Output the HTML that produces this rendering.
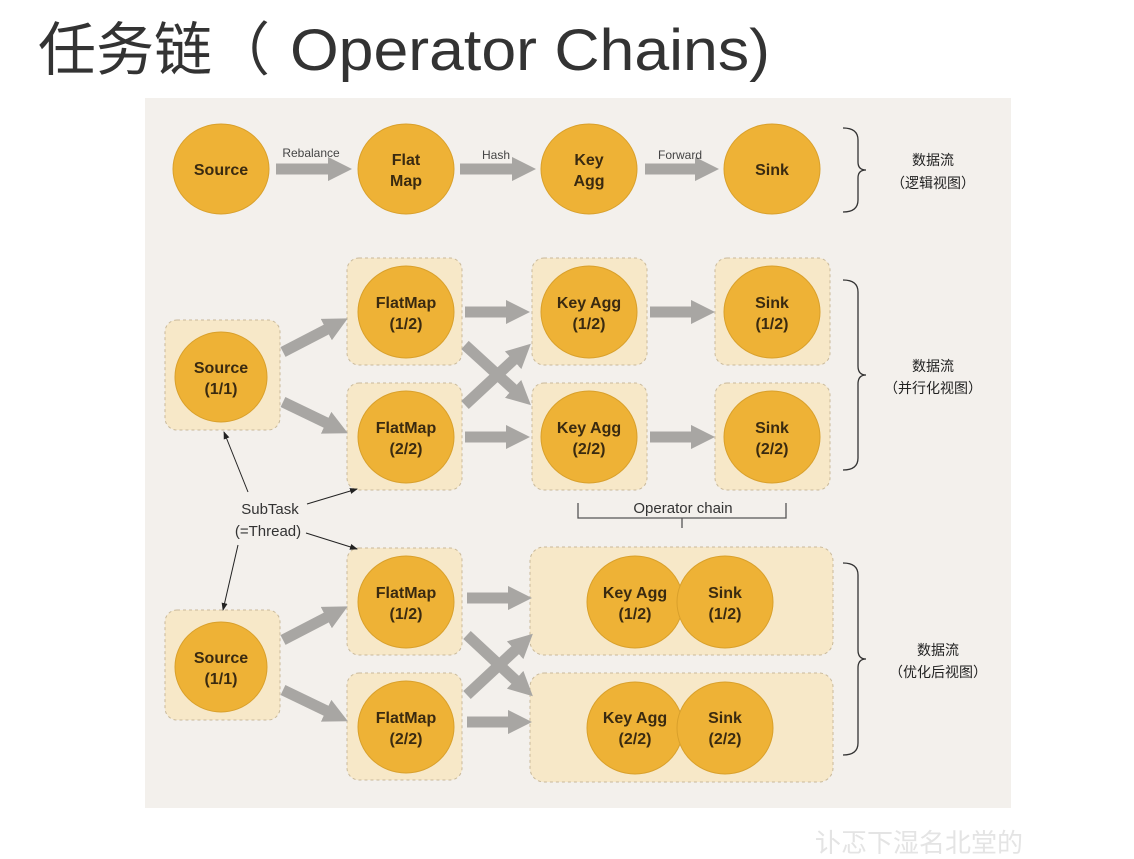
<!DOCTYPE html>
<html><head><meta charset="utf-8"><style>
body{margin:0;width:1134px;height:854px;background:#fff;overflow:hidden;font-family:"Liberation Sans","Noto Sans CJK SC",sans-serif}
</style></head><body>
<svg width="1134" height="854" xmlns="http://www.w3.org/2000/svg" font-family="Liberation Sans, Noto Sans CJK SC, sans-serif">
<defs>
<marker id="ga" markerWidth="2.2" markerHeight="2.2" refX="1.1" refY="1.1" orient="auto" markerUnits="strokeWidth"><path d="M0,0 L2.2,1.1 L0,2.2z" fill="#a8a6a3"/></marker>
<marker id="ba" markerWidth="8" markerHeight="8" refX="7" refY="4" orient="auto" markerUnits="userSpaceOnUse"><path d="M0,1 L8,4 L0,7z" fill="#222"/></marker>
</defs>
<text x="38" y="70" font-size="58" fill="#333">任务链（</text>
<text x="290" y="70" font-size="58" fill="#333" textLength="480" lengthAdjust="spacingAndGlyphs">Operator Chains)</text>
<rect x="145" y="98" width="866" height="710" fill="#f3f0ec"/>
<g fill="#f7e8c8" stroke="#c9b99a" stroke-dasharray="3,3" stroke-width="1">
<rect x="165" y="320" width="115" height="110" rx="12"/>
<rect x="347" y="258" width="115" height="107" rx="12"/>
<rect x="347" y="383" width="115" height="107" rx="12"/>
<rect x="532" y="258" width="115" height="107" rx="12"/>
<rect x="532" y="383" width="115" height="107" rx="12"/>
<rect x="715" y="258" width="115" height="107" rx="12"/>
<rect x="715" y="383" width="115" height="107" rx="12"/>
<rect x="165" y="610" width="115" height="110" rx="12"/>
<rect x="347" y="548" width="115" height="107" rx="12"/>
<rect x="347" y="673" width="115" height="107" rx="12"/>
<rect x="530" y="547" width="303" height="108" rx="14"/>
<rect x="530" y="673" width="303" height="109" rx="14"/>
</g>
<g stroke="#a8a6a3" stroke-width="11" fill="none" marker-end="url(#ga)">
<line x1="276" y1="169" x2="340" y2="169"/>
<line x1="460" y1="169" x2="524" y2="169"/>
<line x1="645" y1="169" x2="707" y2="169"/>
<line x1="283" y1="352" x2="337" y2="324"/>
<line x1="283" y1="402" x2="337" y2="428"/>
<line x1="465" y1="312" x2="518" y2="312"/>
<line x1="465" y1="437" x2="518" y2="437"/>
<line x1="650" y1="312" x2="703" y2="312"/>
<line x1="650" y1="437" x2="703" y2="437"/>
<line x1="465" y1="345" x2="522" y2="397"/>
<line x1="465" y1="405" x2="522" y2="352"/>
<line x1="283" y1="640" x2="337" y2="612"/>
<line x1="283" y1="690" x2="337" y2="716"/>
<line x1="467" y1="598" x2="520" y2="598"/>
<line x1="467" y1="722" x2="520" y2="722"/>
<line x1="467" y1="635" x2="524" y2="688"/>
<line x1="467" y1="695" x2="524" y2="642"/>
</g>
<g font-size="12" fill="#444" text-anchor="middle">
<text x="311" y="157">Rebalance</text><text x="496" y="159">Hash</text><text x="680" y="159">Forward</text>
</g>
<g fill="#eeb236" stroke="#d9a02b" stroke-width="1">
<ellipse cx="221" cy="169" rx="48" ry="45"/><ellipse cx="406" cy="169" rx="48" ry="45"/><ellipse cx="589" cy="169" rx="48" ry="45"/><ellipse cx="772" cy="169" rx="48" ry="45"/>
<ellipse cx="221" cy="377" rx="46" ry="45"/><ellipse cx="406" cy="312" rx="48" ry="46"/><ellipse cx="406" cy="437" rx="48" ry="46"/>
<ellipse cx="589" cy="312" rx="48" ry="46"/><ellipse cx="589" cy="437" rx="48" ry="46"/><ellipse cx="772" cy="312" rx="48" ry="46"/><ellipse cx="772" cy="437" rx="48" ry="46"/>
<ellipse cx="221" cy="667" rx="46" ry="45"/><ellipse cx="406" cy="602" rx="48" ry="46"/><ellipse cx="406" cy="727" rx="48" ry="46"/>
<ellipse cx="635" cy="602" rx="48" ry="46"/><ellipse cx="725" cy="602" rx="48" ry="46"/>
<ellipse cx="635" cy="728" rx="48" ry="46"/><ellipse cx="725" cy="728" rx="48" ry="46"/>
</g>
<g font-size="16" font-weight="bold" fill="#3a2a10" text-anchor="middle">
<text x="221" y="175">Source</text>
<text x="406" y="165">Flat</text><text x="406" y="186">Map</text>
<text x="589" y="165">Key</text><text x="589" y="186">Agg</text>
<text x="772" y="175">Sink</text>
<text x="221" y="373">Source</text><text x="221" y="394">(1/1)</text>
<text x="406" y="308">FlatMap</text><text x="406" y="329">(1/2)</text>
<text x="406" y="433">FlatMap</text><text x="406" y="454">(2/2)</text>
<text x="589" y="308">Key Agg</text><text x="589" y="329">(1/2)</text>
<text x="589" y="433">Key Agg</text><text x="589" y="454">(2/2)</text>
<text x="772" y="308">Sink</text><text x="772" y="329">(1/2)</text>
<text x="772" y="433">Sink</text><text x="772" y="454">(2/2)</text>
<text x="221" y="663">Source</text><text x="221" y="684">(1/1)</text>
<text x="406" y="598">FlatMap</text><text x="406" y="619">(1/2)</text>
<text x="406" y="723">FlatMap</text><text x="406" y="744">(2/2)</text>
<text x="635" y="598">Key Agg</text><text x="635" y="619">(1/2)</text>
<text x="725" y="598">Sink</text><text x="725" y="619">(1/2)</text>
<text x="635" y="723">Key Agg</text><text x="635" y="744">(2/2)</text>
<text x="725" y="723">Sink</text><text x="725" y="744">(2/2)</text>
</g>
<g stroke="#333" stroke-width="1.3" fill="none">
<path d="M843,128 Q858,128 858,140 L858,162 Q858,170 866,170 Q858,170 858,178 L858,200 Q858,212 843,212"/>
<path d="M843,280 Q858,280 858,292 L858,366 Q858,375 866,375 Q858,375 858,384 L858,458 Q858,470 843,470"/>
<path d="M843,563 Q858,563 858,575 L858,650 Q858,659 866,659 Q858,659 858,668 L858,743 Q858,755 843,755"/>
<path d="M578,503 L578,518 L682,518 L682,528 M682,518 L786,518 L786,503" stroke="#555"/>
</g>
<g font-size="14" fill="#222" text-anchor="middle">
<text x="933" y="165">数据流</text><text x="933" y="188">（逻辑视图）</text>
<text x="933" y="371">数据流</text><text x="933" y="393">（并行化视图）</text>
<text x="938" y="655">数据流</text><text x="938" y="677">（优化后视图）</text>
</g>
<text x="683" y="513" font-size="15" fill="#333" text-anchor="middle">Operator chain</text>
<text x="270" y="514" font-size="15" fill="#333" text-anchor="middle">SubTask</text>
<text x="268" y="536" font-size="15" fill="#333" text-anchor="middle">(=Thread)</text>
<g stroke="#222" stroke-width="1" marker-end="url(#ba)">
<line x1="248" y1="492" x2="224" y2="432"/>
<line x1="307" y1="504" x2="357" y2="489"/>
<line x1="306" y1="533" x2="357" y2="549"/>
<line x1="238" y1="545" x2="223" y2="610"/>
</g>
<text x="815" y="852" font-size="26" fill="#e4e4e4">讣忑下湿名北堂的</text>
</svg>
</body></html>
